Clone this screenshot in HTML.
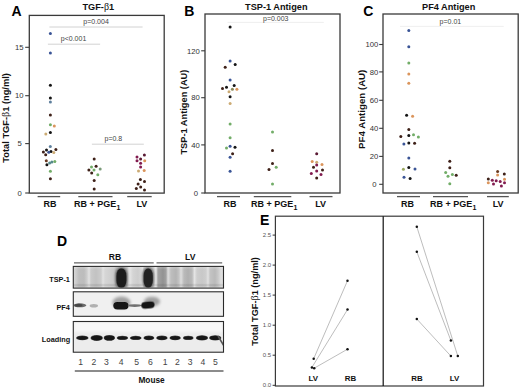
<!DOCTYPE html>
<html><head><meta charset="utf-8"><title>Figure</title>
<style>
html,body{margin:0;padding:0;background:#fff;width:520px;height:389px;overflow:hidden;}
svg{display:block;}
text{font-family:"Liberation Sans",sans-serif;}
.b{font-weight:bold;}
.beta{font-family:"Liberation Serif",serif;font-weight:normal;}
</style></head><body>
<svg width="520" height="389" viewBox="0 0 520 389">
<defs>
<filter id="bl1" x="-50%" y="-50%" width="200%" height="200%"><feGaussianBlur stdDeviation="1"/></filter>
<filter id="bl2" x="-50%" y="-50%" width="200%" height="200%"><feGaussianBlur stdDeviation="1.6"/></filter>
<filter id="bl05" x="-50%" y="-50%" width="200%" height="200%"><feGaussianBlur stdDeviation="0.6"/></filter>
</defs>
<rect width="520" height="389" fill="#fff"/>

<text x="11.4" y="15.6" class="b" font-size="14" fill="#000">A</text>
<text x="184.2" y="15.9" class="b" font-size="14" fill="#000">B</text>
<text x="363.2" y="15.9" class="b" font-size="14" fill="#000">C</text>
<text x="57.0" y="246.2" class="b" font-size="14" fill="#000">D</text>
<text x="260.0" y="225.1" class="b" font-size="14" fill="#000">E</text>
<text x="98.3" y="10" class="b" font-size="9.2" fill="#111" text-anchor="middle">TGF-<tspan class="beta" font-size="10">β</tspan>1</text>
<text x="276.3" y="10" class="b" font-size="9.2" fill="#111" text-anchor="middle">TSP-1 Antigen</text>
<text x="448.7" y="10" class="b" font-size="9.2" fill="#111" text-anchor="middle">PF4 Antigen</text>
<rect x="29.3" y="15.4" width="134.9" height="177.7" fill="none" stroke="#3a3a3a" stroke-width="1.3"/>
<rect x="205" y="14" width="135" height="179" fill="none" stroke="#3a3a3a" stroke-width="1.3"/>
<rect x="383" y="14" width="135.2" height="179" fill="none" stroke="#3a3a3a" stroke-width="1.3"/>
<line x1="25.2" y1="47.3" x2="29" y2="47.3" stroke="#3a3a3a" stroke-width="1.1"/>
<text x="23.6" y="50.05" font-size="7.7" fill="#333" text-anchor="end">15</text>
<line x1="25.2" y1="95.7" x2="29" y2="95.7" stroke="#3a3a3a" stroke-width="1.1"/>
<text x="23.6" y="98.45" font-size="7.7" fill="#333" text-anchor="end">10</text>
<line x1="25.2" y1="143.6" x2="29" y2="143.6" stroke="#3a3a3a" stroke-width="1.1"/>
<text x="21.8" y="146.35" font-size="7.7" fill="#333" text-anchor="end">5</text>
<line x1="25.2" y1="193" x2="29" y2="193" stroke="#3a3a3a" stroke-width="1.1"/>
<text x="21.8" y="195.75" font-size="7.7" fill="#333" text-anchor="end">0</text>
<line x1="201.2" y1="50.8" x2="205" y2="50.8" stroke="#3a3a3a" stroke-width="1.1"/>
<text x="199.8" y="53.55" font-size="7.7" fill="#333" text-anchor="end">120</text>
<line x1="201.2" y1="97.7" x2="205" y2="97.7" stroke="#3a3a3a" stroke-width="1.1"/>
<text x="199.8" y="100.45" font-size="7.7" fill="#333" text-anchor="end">80</text>
<line x1="201.2" y1="144.9" x2="205" y2="144.9" stroke="#3a3a3a" stroke-width="1.1"/>
<text x="199.8" y="147.65" font-size="7.7" fill="#333" text-anchor="end">40</text>
<line x1="201.2" y1="193" x2="205" y2="193" stroke="#3a3a3a" stroke-width="1.1"/>
<text x="198.0" y="195.75" font-size="7.7" fill="#333" text-anchor="end">0</text>
<line x1="379.2" y1="44.5" x2="383" y2="44.5" stroke="#3a3a3a" stroke-width="1.1"/>
<text x="378.3" y="47.25" font-size="7.7" fill="#333" text-anchor="end">100</text>
<line x1="379.2" y1="71.9" x2="383" y2="71.9" stroke="#3a3a3a" stroke-width="1.1"/>
<text x="378.3" y="74.65" font-size="7.7" fill="#333" text-anchor="end">80</text>
<line x1="379.2" y1="100.3" x2="383" y2="100.3" stroke="#3a3a3a" stroke-width="1.1"/>
<text x="378.3" y="103.05" font-size="7.7" fill="#333" text-anchor="end">60</text>
<line x1="379.2" y1="128.3" x2="383" y2="128.3" stroke="#3a3a3a" stroke-width="1.1"/>
<text x="378.3" y="131.05" font-size="7.7" fill="#333" text-anchor="end">40</text>
<line x1="379.2" y1="156.4" x2="383" y2="156.4" stroke="#3a3a3a" stroke-width="1.1"/>
<text x="378.3" y="159.15" font-size="7.7" fill="#333" text-anchor="end">20</text>
<line x1="379.2" y1="184.3" x2="383" y2="184.3" stroke="#3a3a3a" stroke-width="1.1"/>
<text x="376.5" y="187.05" font-size="7.7" fill="#333" text-anchor="end">0</text>
<text transform="translate(9.0,117.9) rotate(-90)" class="b" font-size="9.3" fill="#111" text-anchor="middle">Total TGF-<tspan class="beta" font-size="10">β</tspan>1 (ng/ml)</text>
<text transform="translate(186.5,112.1) rotate(-90)" class="b" font-size="9.25" fill="#111" text-anchor="middle">TSP-1 Antigen (AU)</text>
<text transform="translate(365.3,109.3) rotate(-90)" class="b" font-size="9.7" fill="#111" text-anchor="middle">PF4 Antigen (AU)</text>
<line x1="37.6" y1="196.6" x2="60.2" y2="196.6" stroke="#555" stroke-width="1.3"/>
<text x="49.9" y="207.2" class="b" font-size="9" fill="#111" text-anchor="middle">RB</text>
<line x1="78.3" y1="196.6" x2="112.5" y2="196.6" stroke="#555" stroke-width="1.3"/>
<text x="97.2" y="207.2" class="b" font-size="9" fill="#111" text-anchor="middle">RB + PGE<tspan font-size="7" dy="2.6">1</tspan></text>
<line x1="127.2" y1="196.6" x2="151.7" y2="196.6" stroke="#555" stroke-width="1.3"/>
<text x="141.8" y="207.2" class="b" font-size="9" fill="#111" text-anchor="middle">LV</text>
<line x1="217" y1="196.6" x2="240" y2="196.6" stroke="#555" stroke-width="1.3"/>
<text x="230.1" y="207.2" class="b" font-size="9" fill="#111" text-anchor="middle">RB</text>
<line x1="253.8" y1="196.6" x2="291.3" y2="196.6" stroke="#555" stroke-width="1.3"/>
<text x="274.2" y="207.2" class="b" font-size="9" fill="#111" text-anchor="middle">RB + PGE<tspan font-size="7" dy="2.6">1</tspan></text>
<line x1="309.5" y1="196.6" x2="332.5" y2="196.6" stroke="#555" stroke-width="1.3"/>
<text x="320.7" y="207.2" class="b" font-size="9" fill="#111" text-anchor="middle">LV</text>
<line x1="397" y1="196.6" x2="420" y2="196.6" stroke="#555" stroke-width="1.3"/>
<text x="407.6" y="207.2" class="b" font-size="9" fill="#111" text-anchor="middle">RB</text>
<line x1="433" y1="196.6" x2="468" y2="196.6" stroke="#555" stroke-width="1.3"/>
<text x="453.2" y="207.2" class="b" font-size="9" fill="#111" text-anchor="middle">RB + PGE<tspan font-size="7" dy="2.6">1</tspan></text>
<line x1="487" y1="196.6" x2="508.8" y2="196.6" stroke="#555" stroke-width="1.3"/>
<text x="498.1" y="207.2" class="b" font-size="9" fill="#111" text-anchor="middle">LV</text>
<line x1="49.4" y1="27" x2="142.6" y2="27" stroke="#cdcdcd" stroke-width="0.9"/>
<text x="83.3" y="24.4" font-size="7" fill="#444">p=0.004</text>
<line x1="47.9" y1="44.2" x2="100.1" y2="44.2" stroke="#cdcdcd" stroke-width="0.9"/>
<text x="60.8" y="40.5" font-size="7" fill="#444">p&lt;0.001</text>
<line x1="91.9" y1="144.2" x2="143.8" y2="144.2" stroke="#cdcdcd" stroke-width="0.9"/>
<text x="104.5" y="140.7" font-size="7" fill="#444">p=0.8</text>
<line x1="227.5" y1="22.4" x2="323.8" y2="22.4" stroke="#ececec" stroke-width="0.9"/>
<text x="263.0" y="21.1" font-size="7" fill="#444">p=0.003</text>
<line x1="400" y1="26.4" x2="503.7" y2="26.4" stroke="#ededed" stroke-width="0.9"/>
<text x="439.6" y="24.3" font-size="7" fill="#444">p=0.01</text>
<circle cx="50.4" cy="33.4" r="1.5" fill="#3a5496"/>
<circle cx="50.4" cy="53.1" r="1.5" fill="#3a5496"/>
<circle cx="50.4" cy="85.2" r="1.5" fill="#141414"/>
<circle cx="50.4" cy="98.1" r="1.5" fill="#141414"/>
<circle cx="50.4" cy="102" r="1.5" fill="#5e7f9c"/>
<circle cx="50.4" cy="114.9" r="1.5" fill="#3e2018"/>
<circle cx="50.4" cy="124.7" r="1.5" fill="#72ad68"/>
<circle cx="54.3" cy="125.9" r="1.5" fill="#db955c"/>
<circle cx="50.4" cy="132.4" r="1.5" fill="#141414"/>
<circle cx="45.8" cy="134" r="1.5" fill="#ccab74"/>
<circle cx="50.3" cy="146.6" r="1.5" fill="#5e7f9c"/>
<circle cx="55.9" cy="149.6" r="1.5" fill="#3e2018"/>
<circle cx="46.5" cy="150" r="1.5" fill="#141414"/>
<circle cx="43.4" cy="152" r="1.5" fill="#3e2018"/>
<circle cx="51" cy="151.6" r="1.5" fill="#141414"/>
<circle cx="48.8" cy="152.3" r="1.5" fill="#3a5496"/>
<circle cx="53.8" cy="152.5" r="1.5" fill="#ccab74"/>
<circle cx="45.7" cy="154.7" r="1.5" fill="#3e2018"/>
<circle cx="46.3" cy="160.8" r="1.5" fill="#6a3a20"/>
<circle cx="46.9" cy="164.8" r="1.5" fill="#141414"/>
<circle cx="49.6" cy="163.1" r="1.5" fill="#558a8c"/>
<circle cx="51.9" cy="162" r="1.5" fill="#558a8c"/>
<circle cx="54.8" cy="161.5" r="1.5" fill="#72ad68"/>
<circle cx="50.4" cy="171.3" r="1.5" fill="#72ad68"/>
<circle cx="50.4" cy="178.8" r="1.5" fill="#3e2018"/>
<circle cx="94.2" cy="159" r="1.5" fill="#3e2018"/>
<circle cx="91.5" cy="167" r="1.5" fill="#72ad68"/>
<circle cx="96.1" cy="166.2" r="1.5" fill="#3e2018"/>
<circle cx="100.2" cy="169" r="1.5" fill="#7a9a78"/>
<circle cx="88.9" cy="170" r="1.5" fill="#3e2018"/>
<circle cx="94" cy="170" r="1.5" fill="#72ad68"/>
<circle cx="91.7" cy="173.1" r="1.5" fill="#3e2018"/>
<circle cx="97.8" cy="174.7" r="1.5" fill="#72ad68"/>
<circle cx="94.2" cy="180.5" r="1.5" fill="#3e2018"/>
<circle cx="94.2" cy="188.9" r="1.5" fill="#3e2018"/>
<circle cx="144.4" cy="154.9" r="1.5" fill="#5a1a34"/>
<circle cx="137" cy="157" r="1.5" fill="#821c50"/>
<circle cx="140.6" cy="159" r="1.5" fill="#5a1a34"/>
<circle cx="137" cy="160.8" r="1.5" fill="#821c50"/>
<circle cx="144.7" cy="160.8" r="1.5" fill="#db955c"/>
<circle cx="140.6" cy="163.2" r="1.5" fill="#821c50"/>
<circle cx="140.6" cy="167" r="1.5" fill="#821c50"/>
<circle cx="138.5" cy="171.1" r="1.5" fill="#ccab74"/>
<circle cx="144.2" cy="170.6" r="1.5" fill="#db955c"/>
<circle cx="140.4" cy="179.6" r="1.5" fill="#3e2018"/>
<circle cx="144.5" cy="181.6" r="1.5" fill="#3e2018"/>
<circle cx="138.1" cy="184" r="1.5" fill="#3e2018"/>
<circle cx="140.7" cy="187.1" r="1.5" fill="#3e2018"/>
<circle cx="136.3" cy="188.5" r="1.5" fill="#3e2018"/>
<circle cx="144.5" cy="189.9" r="1.5" fill="#3e2018"/>
<circle cx="230.1" cy="26.9" r="1.5" fill="#141414"/>
<circle cx="230.1" cy="60.9" r="1.5" fill="#3a5496"/>
<circle cx="235.2" cy="64.5" r="1.5" fill="#141414"/>
<circle cx="225.2" cy="67.3" r="1.5" fill="#3e2018"/>
<circle cx="230.1" cy="79.9" r="1.5" fill="#3a5496"/>
<circle cx="234.2" cy="85.6" r="1.5" fill="#141414"/>
<circle cx="226.5" cy="87.3" r="1.5" fill="#141414"/>
<circle cx="222.5" cy="88.5" r="1.5" fill="#3e2018"/>
<circle cx="232.4" cy="89.2" r="1.5" fill="#8c8a5a"/>
<circle cx="236.9" cy="89.3" r="1.5" fill="#db955c"/>
<circle cx="229" cy="91.8" r="1.5" fill="#ccab74"/>
<circle cx="230.1" cy="96.8" r="1.5" fill="#141414"/>
<circle cx="230.1" cy="103.5" r="1.5" fill="#ccab74"/>
<circle cx="230.1" cy="124.1" r="1.5" fill="#72ad68"/>
<circle cx="230.1" cy="137.7" r="1.5" fill="#72ad68"/>
<circle cx="230.1" cy="146.2" r="1.5" fill="#3a5496"/>
<circle cx="235" cy="147.2" r="1.5" fill="#141414"/>
<circle cx="226.5" cy="148" r="1.5" fill="#72ad68"/>
<circle cx="232.6" cy="153.8" r="1.5" fill="#3e2018"/>
<circle cx="230.1" cy="157.3" r="1.5" fill="#3a5496"/>
<circle cx="230.1" cy="171.3" r="1.5" fill="#3a5496"/>
<circle cx="272.5" cy="132.1" r="1.5" fill="#72ad68"/>
<circle cx="272.5" cy="150.6" r="1.5" fill="#3e2018"/>
<circle cx="272.5" cy="163.6" r="1.5" fill="#3e2018"/>
<circle cx="276.2" cy="167.2" r="1.5" fill="#72ad68"/>
<circle cx="269" cy="169.5" r="1.5" fill="#3e2018"/>
<circle cx="272.5" cy="183.9" r="1.5" fill="#72ad68"/>
<circle cx="316.7" cy="153.7" r="1.5" fill="#5a1a34"/>
<circle cx="312.2" cy="161.4" r="1.5" fill="#db955c"/>
<circle cx="316.7" cy="162.3" r="1.5" fill="#ccab74"/>
<circle cx="322" cy="164.6" r="1.5" fill="#db955c"/>
<circle cx="316.7" cy="165" r="1.5" fill="#821c50"/>
<circle cx="313.5" cy="167.2" r="1.5" fill="#3e2018"/>
<circle cx="322.5" cy="169.9" r="1.5" fill="#3e2018"/>
<circle cx="316.7" cy="170.9" r="1.5" fill="#821c50"/>
<circle cx="311.3" cy="173.5" r="1.5" fill="#821c50"/>
<circle cx="321" cy="174.4" r="1.5" fill="#821c50"/>
<circle cx="316.7" cy="178" r="1.5" fill="#3e2018"/>
<circle cx="408.8" cy="30.6" r="1.5" fill="#3a5496"/>
<circle cx="408.8" cy="46.7" r="1.5" fill="#3a5496"/>
<circle cx="408.8" cy="63" r="1.5" fill="#72ad68"/>
<circle cx="408.8" cy="74" r="1.5" fill="#db955c"/>
<circle cx="408.8" cy="83.3" r="1.5" fill="#db955c"/>
<circle cx="406.6" cy="115.2" r="1.5" fill="#141414"/>
<circle cx="412.6" cy="116.3" r="1.5" fill="#db955c"/>
<circle cx="408.8" cy="129.6" r="1.5" fill="#3e2018"/>
<circle cx="400.8" cy="136.4" r="1.5" fill="#3e2018"/>
<circle cx="408.8" cy="135.6" r="1.5" fill="#141414"/>
<circle cx="413.5" cy="134.7" r="1.5" fill="#72ad68"/>
<circle cx="418.4" cy="137" r="1.5" fill="#72ad68"/>
<circle cx="403.9" cy="144" r="1.5" fill="#3a5496"/>
<circle cx="408.8" cy="143" r="1.5" fill="#141414"/>
<circle cx="414.6" cy="143.3" r="1.5" fill="#3e2018"/>
<circle cx="408.8" cy="158" r="1.5" fill="#3a5496"/>
<circle cx="403.4" cy="169.3" r="1.5" fill="#9aa860"/>
<circle cx="408.8" cy="167.6" r="1.5" fill="#141414"/>
<circle cx="415" cy="168.9" r="1.5" fill="#3a5496"/>
<circle cx="404" cy="177.3" r="1.5" fill="#3a5496"/>
<circle cx="410.1" cy="178.6" r="1.5" fill="#141414"/>
<circle cx="449.8" cy="161.3" r="1.5" fill="#3e2018"/>
<circle cx="449.8" cy="167.7" r="1.5" fill="#3e2018"/>
<circle cx="445.7" cy="172.4" r="1.5" fill="#72ad68"/>
<circle cx="448" cy="176.2" r="1.5" fill="#72ad68"/>
<circle cx="452.4" cy="174.5" r="1.5" fill="#72ad68"/>
<circle cx="456.2" cy="175.2" r="1.5" fill="#3e2018"/>
<circle cx="449.8" cy="183.7" r="1.5" fill="#72ad68"/>
<circle cx="497.6" cy="171.6" r="1.5" fill="#6a3a20"/>
<circle cx="497.6" cy="175" r="1.5" fill="#db955c"/>
<circle cx="504.3" cy="174.1" r="1.5" fill="#3e2018"/>
<circle cx="488.3" cy="179" r="1.5" fill="#3e2018"/>
<circle cx="488.3" cy="182.7" r="1.5" fill="#db955c"/>
<circle cx="492.3" cy="180.3" r="1.5" fill="#821c50"/>
<circle cx="496.2" cy="180.8" r="1.5" fill="#821c50"/>
<circle cx="500.2" cy="181.4" r="1.5" fill="#821c50"/>
<circle cx="504.5" cy="179.3" r="1.5" fill="#db955c"/>
<circle cx="504.5" cy="182.7" r="1.5" fill="#821c50"/>
<circle cx="493.5" cy="183.9" r="1.5" fill="#821c50"/>
<circle cx="501.4" cy="186" r="1.5" fill="#821c50"/>
<text x="115" y="260.3" class="b" font-size="8.6" fill="#111" text-anchor="middle">RB</text>
<text x="190.2" y="260.3" class="b" font-size="8.6" fill="#111" text-anchor="middle">LV</text>
<line x1="74" y1="262.8" x2="153.7" y2="262.8" stroke="#666" stroke-width="1.2"/>
<line x1="156.5" y1="262.8" x2="222.2" y2="262.8" stroke="#666" stroke-width="1.2"/>
<text x="69.9" y="282.2" class="b" font-size="7.3" fill="#111" text-anchor="end">TSP-1</text>
<text x="69.9" y="309.5" class="b" font-size="7.3" fill="#111" text-anchor="end">PF4</text>
<text x="70.2" y="341.7" class="b" font-size="7.3" fill="#111" text-anchor="end">Loading</text>
<clipPath id="c1"><rect x="73.8" y="266.9" width="149.2" height="20.7"/></clipPath>
<clipPath id="c2"><rect x="73.8" y="292.3" width="149.2" height="23.5"/></clipPath>
<clipPath id="c3"><rect x="73.8" y="322" width="149.2" height="29.7"/></clipPath>
<linearGradient id="gt" gradientUnits="userSpaceOnUse" x1="73.3" y1="0" x2="223.5" y2="0"><stop offset="0.0000" stop-color="rgb(222,222,222)"/><stop offset="0.0080" stop-color="rgb(212,212,212)"/><stop offset="0.0180" stop-color="rgb(205,205,205)"/><stop offset="0.0379" stop-color="rgb(190,190,190)"/><stop offset="0.0712" stop-color="rgb(188,188,188)"/><stop offset="0.0912" stop-color="rgb(205,205,205)"/><stop offset="0.1045" stop-color="rgb(226,226,226)"/><stop offset="0.1178" stop-color="rgb(202,202,202)"/><stop offset="0.1511" stop-color="rgb(194,194,194)"/><stop offset="0.1844" stop-color="rgb(204,204,204)"/><stop offset="0.1977" stop-color="rgb(226,226,226)"/><stop offset="0.2111" stop-color="rgb(214,214,214)"/><stop offset="0.2443" stop-color="rgb(208,208,208)"/><stop offset="0.2710" stop-color="rgb(200,200,200)"/><stop offset="0.2843" stop-color="rgb(180,180,180)"/><stop offset="0.3575" stop-color="rgb(180,180,180)"/><stop offset="0.3675" stop-color="rgb(214,214,214)"/><stop offset="0.3775" stop-color="rgb(228,228,228)"/><stop offset="0.3975" stop-color="rgb(212,212,212)"/><stop offset="0.4308" stop-color="rgb(205,205,205)"/><stop offset="0.4507" stop-color="rgb(214,214,214)"/><stop offset="0.4607" stop-color="rgb(222,222,222)"/><stop offset="0.4707" stop-color="rgb(190,190,190)"/><stop offset="0.5306" stop-color="rgb(190,190,190)"/><stop offset="0.5406" stop-color="rgb(214,214,214)"/><stop offset="0.5506" stop-color="rgb(234,234,234)"/><stop offset="0.5639" stop-color="rgb(162,162,162)"/><stop offset="0.5972" stop-color="rgb(146,146,146)"/><stop offset="0.6172" stop-color="rgb(160,160,160)"/><stop offset="0.6305" stop-color="rgb(222,222,222)"/><stop offset="0.6505" stop-color="rgb(190,190,190)"/><stop offset="0.6838" stop-color="rgb(180,180,180)"/><stop offset="0.7037" stop-color="rgb(196,196,196)"/><stop offset="0.7170" stop-color="rgb(222,222,222)"/><stop offset="0.7370" stop-color="rgb(186,186,186)"/><stop offset="0.7636" stop-color="rgb(176,176,176)"/><stop offset="0.7903" stop-color="rgb(186,186,186)"/><stop offset="0.8069" stop-color="rgb(228,228,228)"/><stop offset="0.8236" stop-color="rgb(206,206,206)"/><stop offset="0.8569" stop-color="rgb(200,200,200)"/><stop offset="0.8835" stop-color="rgb(206,206,206)"/><stop offset="0.8968" stop-color="rgb(226,226,226)"/><stop offset="0.9101" stop-color="rgb(196,196,196)"/><stop offset="0.9434" stop-color="rgb(186,186,186)"/><stop offset="0.9634" stop-color="rgb(200,200,200)"/><stop offset="0.9834" stop-color="rgb(222,222,222)"/><stop offset="1.0000" stop-color="rgb(218,218,218)"/></linearGradient>
<linearGradient id="gv" x1="0" y1="0" x2="0" y2="1"><stop offset="0" stop-color="#fff" stop-opacity="0.25"/><stop offset="0.15" stop-color="#fff" stop-opacity="0"/><stop offset="0.78" stop-color="#000" stop-opacity="0"/><stop offset="0.86" stop-color="#000" stop-opacity="0.12"/><stop offset="0.93" stop-color="#000" stop-opacity="0.02"/><stop offset="1" stop-color="#000" stop-opacity="0.08"/></linearGradient>
<g clip-path="url(#c1)">
<rect x="73.3" y="266.4" width="150.2" height="21.7" fill="url(#gt)"/>
<rect x="73.3" y="266.4" width="150.2" height="21.7" fill="url(#gv)"/>
<rect x="115.4" y="267.6" width="12" height="21" rx="5" ry="8" fill="#5a5a5a" filter="url(#bl1)"/>
<rect x="116.4" y="268.4" width="10" height="19.5" rx="4.5" ry="7.5" fill="#1e1e1e" filter="url(#bl05)"/>
<rect x="142.6" y="267.6" width="11.2" height="21" rx="5" ry="8" fill="#5e5e5e" filter="url(#bl1)"/>
<rect x="143.6" y="268.4" width="9.2" height="19.5" rx="4.5" ry="7.5" fill="#242424" filter="url(#bl05)"/>
</g>
<rect x="73.3" y="266.4" width="150.2" height="21.7" fill="none" stroke="#2a2a2a" stroke-width="1.1"/>
<g clip-path="url(#c2)">
<rect x="73.3" y="291.8" width="150.2" height="24.5" fill="#f0f0f0"/>
<ellipse cx="79.8" cy="305.3" rx="6.6" ry="2.0" fill="#6a6a6a" filter="url(#bl05)"/>
<ellipse cx="78.5" cy="305.2" rx="4" ry="1.5" fill="#474747" filter="url(#bl05)"/>
<ellipse cx="93.8" cy="305.8" rx="4.2" ry="1.8" fill="#b0b0b0" filter="url(#bl05)"/>
<ellipse cx="121.5" cy="302.5" rx="9" ry="6" fill="#a0a0a0" filter="url(#bl2)"/>
<rect x="113.3" y="302" width="15.2" height="7.4" rx="4" ry="3.7" fill="#121212" filter="url(#bl05)"/>
<ellipse cx="134.7" cy="305.6" rx="7" ry="1.4" fill="#707070" filter="url(#bl05)"/>
<ellipse cx="152" cy="301.5" rx="8" ry="4.8" fill="#a0a0a0" filter="url(#bl2)"/>
<rect x="141.2" y="301.7" width="13.4" height="6.8" rx="4" ry="3.4" fill="#141414" filter="url(#bl05)" transform="rotate(-5 147.9 305.1)"/>
</g>
<rect x="73.3" y="291.8" width="150.2" height="24.5" fill="none" stroke="#2a2a2a" stroke-width="1.1"/>
<g clip-path="url(#c3)">
<rect x="73.3" y="321.5" width="150.2" height="30.7" fill="#ececec"/>
<rect x="74" y="322" width="149" height="10" fill="#f7f7f7" filter="url(#bl1)"/>
<ellipse cx="82.30000000000001" cy="337.9" rx="6.199999999999998" ry="2.4" fill="#555" filter="url(#bl05)"/>
<ellipse cx="82.30000000000001" cy="337.9" rx="5.599999999999999" ry="1.9" fill="#161616" filter="url(#bl05)"/>
<ellipse cx="96.69999999999999" cy="337.9" rx="6.199999999999998" ry="3.0" fill="#555" filter="url(#bl05)"/>
<ellipse cx="96.69999999999999" cy="337.9" rx="5.599999999999999" ry="2.5" fill="#161616" filter="url(#bl05)"/>
<ellipse cx="109.35" cy="337.9" rx="5.749999999999996" ry="2.9" fill="#555" filter="url(#bl05)"/>
<ellipse cx="109.35" cy="337.9" rx="5.149999999999996" ry="2.4" fill="#161616" filter="url(#bl05)"/>
<ellipse cx="122.4" cy="337.9" rx="5.699999999999998" ry="2.2" fill="#555" filter="url(#bl05)"/>
<ellipse cx="122.4" cy="337.9" rx="5.099999999999999" ry="1.7" fill="#161616" filter="url(#bl05)"/>
<ellipse cx="135.75" cy="337.9" rx="5.850000000000011" ry="2.1" fill="#555" filter="url(#bl05)"/>
<ellipse cx="135.75" cy="337.9" rx="5.2500000000000115" ry="1.6" fill="#161616" filter="url(#bl05)"/>
<ellipse cx="148.9" cy="337.9" rx="5.399999999999994" ry="2.3" fill="#555" filter="url(#bl05)"/>
<ellipse cx="148.9" cy="337.9" rx="4.7999999999999945" ry="1.8" fill="#161616" filter="url(#bl05)"/>
<ellipse cx="161.9" cy="337.9" rx="5.7000000000000055" ry="2.3" fill="#555" filter="url(#bl05)"/>
<ellipse cx="161.9" cy="337.9" rx="5.100000000000006" ry="1.8" fill="#161616" filter="url(#bl05)"/>
<ellipse cx="175.15" cy="337.9" rx="5.649999999999994" ry="2.3" fill="#555" filter="url(#bl05)"/>
<ellipse cx="175.15" cy="337.9" rx="5.0499999999999945" ry="1.8" fill="#161616" filter="url(#bl05)"/>
<ellipse cx="188.25" cy="337.9" rx="5.2499999999999885" ry="2.1" fill="#555" filter="url(#bl05)"/>
<ellipse cx="188.25" cy="337.9" rx="4.649999999999989" ry="1.6" fill="#161616" filter="url(#bl05)"/>
<ellipse cx="202.0" cy="337.9" rx="6.100000000000011" ry="2.7" fill="#555" filter="url(#bl05)"/>
<ellipse cx="202.0" cy="337.9" rx="5.5000000000000115" ry="2.2" fill="#161616" filter="url(#bl05)"/>
<ellipse cx="215.2" cy="337.9" rx="6.099999999999997" ry="2.7" fill="#555" filter="url(#bl05)"/>
<ellipse cx="215.2" cy="337.9" rx="5.499999999999997" ry="2.2" fill="#161616" filter="url(#bl05)"/>
<path d="M218,336 L224,346" stroke="#555" stroke-width="1.5" filter="url(#bl05)"/>
</g>
<rect x="73.3" y="321.5" width="150.2" height="30.7" fill="none" stroke="#2a2a2a" stroke-width="1.1"/>
<text x="80.6" y="365" font-size="8.6" fill="#444" text-anchor="middle">1</text>
<text x="94" y="365" font-size="8.6" fill="#444" text-anchor="middle">2</text>
<text x="106.4" y="365" font-size="8.6" fill="#444" text-anchor="middle">3</text>
<text x="121.2" y="365" font-size="8.6" fill="#444" text-anchor="middle">4</text>
<text x="136.7" y="365" font-size="8.6" fill="#444" text-anchor="middle">5</text>
<text x="150.3" y="365" font-size="8.6" fill="#444" text-anchor="middle">6</text>
<text x="165.2" y="365" font-size="8.6" fill="#444" text-anchor="middle">1</text>
<text x="177.4" y="365" font-size="8.6" fill="#444" text-anchor="middle">2</text>
<text x="190.2" y="365" font-size="8.6" fill="#444" text-anchor="middle">3</text>
<text x="202.8" y="365" font-size="8.6" fill="#444" text-anchor="middle">4</text>
<text x="215.4" y="365" font-size="8.6" fill="#444" text-anchor="middle">5</text>
<line x1="74.8" y1="371" x2="223.5" y2="371" stroke="#666" stroke-width="1.3"/>
<text x="151.6" y="382.8" class="b" font-size="8.3" fill="#111" text-anchor="middle">Mouse</text>
<rect x="275.4" y="216.2" width="208.1" height="169.8" fill="none" stroke="#3a3a3a" stroke-width="1.2"/>
<line x1="383.2" y1="216.2" x2="383.2" y2="386" stroke="#111" stroke-width="1.2"/>
<line x1="272.6" y1="385.3" x2="275.4" y2="385.3" stroke="#333" stroke-width="1.0"/>
<text x="271.2" y="387.3" font-size="6" fill="#555" text-anchor="end">0.0</text>
<line x1="272.6" y1="355.2" x2="275.4" y2="355.2" stroke="#333" stroke-width="1.0"/>
<text x="271.2" y="357.2" font-size="6" fill="#555" text-anchor="end">0.5</text>
<line x1="272.6" y1="325.2" x2="275.4" y2="325.2" stroke="#333" stroke-width="1.0"/>
<text x="271.2" y="327.2" font-size="6" fill="#555" text-anchor="end">1.0</text>
<line x1="272.6" y1="295.1" x2="275.4" y2="295.1" stroke="#333" stroke-width="1.0"/>
<text x="271.2" y="297.1" font-size="6" fill="#555" text-anchor="end">1.5</text>
<line x1="272.6" y1="265.1" x2="275.4" y2="265.1" stroke="#333" stroke-width="1.0"/>
<text x="271.2" y="267.1" font-size="6" fill="#555" text-anchor="end">2.0</text>
<line x1="272.6" y1="235.1" x2="275.4" y2="235.1" stroke="#333" stroke-width="1.0"/>
<text x="271.2" y="237.1" font-size="6" fill="#555" text-anchor="end">2.5</text>
<text transform="translate(257.6,301.4) rotate(-90)" class="b" font-size="9.2" fill="#111" text-anchor="middle">Total TGF-<tspan class="beta" font-size="10">β</tspan>1 (ng/ml)</text>
<line x1="313.7" y1="358.7" x2="347.5" y2="280.7" stroke="#a0a0a0" stroke-width="0.7"/>
<line x1="311.9" y1="367.4" x2="347.5" y2="309.6" stroke="#a0a0a0" stroke-width="0.7"/>
<line x1="314.2" y1="368.2" x2="347.5" y2="349.2" stroke="#a0a0a0" stroke-width="0.7"/>
<line x1="416.8" y1="226.7" x2="457.8" y2="356.1" stroke="#a0a0a0" stroke-width="0.7"/>
<line x1="416.8" y1="251.8" x2="450.9" y2="340.6" stroke="#a0a0a0" stroke-width="0.7"/>
<line x1="416.8" y1="319" x2="450.9" y2="356.1" stroke="#a0a0a0" stroke-width="0.7"/>
<circle cx="313.7" cy="358.7" r="1.25" fill="#111"/>
<circle cx="347.5" cy="280.7" r="1.25" fill="#111"/>
<circle cx="311.9" cy="367.4" r="1.25" fill="#111"/>
<circle cx="347.5" cy="309.6" r="1.25" fill="#111"/>
<circle cx="314.2" cy="368.2" r="1.25" fill="#111"/>
<circle cx="347.5" cy="349.2" r="1.25" fill="#111"/>
<circle cx="416.8" cy="226.7" r="1.25" fill="#111"/>
<circle cx="457.8" cy="356.1" r="1.25" fill="#111"/>
<circle cx="416.8" cy="251.8" r="1.25" fill="#111"/>
<circle cx="450.9" cy="340.6" r="1.25" fill="#111"/>
<circle cx="416.8" cy="319" r="1.25" fill="#111"/>
<circle cx="450.9" cy="356.1" r="1.25" fill="#111"/>
<text x="313.2" y="380.7" class="b" font-size="7.9" fill="#111" text-anchor="middle">LV</text>
<text x="350.5" y="380.7" class="b" font-size="7.9" fill="#111" text-anchor="middle">RB</text>
<text x="417" y="380.7" class="b" font-size="7.9" fill="#111" text-anchor="middle">RB</text>
<text x="454.5" y="380.7" class="b" font-size="7.9" fill="#111" text-anchor="middle">LV</text>
</svg></body></html>
